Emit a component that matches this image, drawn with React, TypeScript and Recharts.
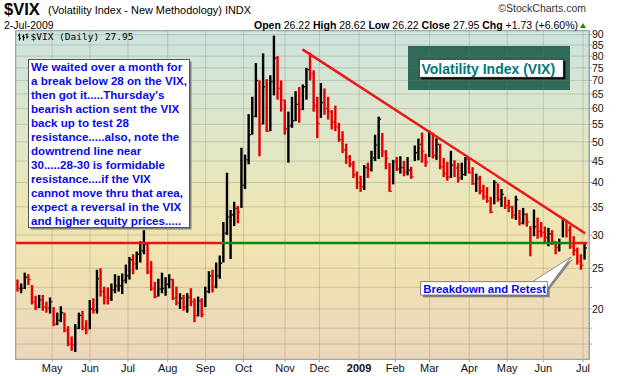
import React from "react";
import { Bar, CartesianGrid, ComposedChart, ReferenceLine, XAxis, YAxis } from "recharts";

// daily bars sampled every second session, first bar = session 1 (early Apr 2008)
const highs = [
  23.5, 23.0, 24.4, 24.2, 22.8, 21.5, 21.6, 21.6, 20.8, 21.3,
  20.2, 19.6, 20.3, 19.6, 18.2, 17.2, 18.4, 19.6, 19.8, 18.8,
  21.0, 21.2, 24.8, 25.0, 22.6, 22.5, 23.0, 24.2, 24.0, 24.3,
  25.5, 26.6, 27.0, 27.4, 29.0, 30.8, 28.6, 26.0, 23.2, 23.6,
  24.4, 23.8, 24.2, 23.6, 22.6, 21.8, 21.6, 21.8, 22.4, 21.2,
  21.4, 21.2, 22.6, 24.6, 24.8, 25.8, 26.8, 32.2, 42.2, 34.4,
  36.0, 35.2, 48.4, 46.6, 58.2, 64.0, 77.0, 70.0, 81.2, 70.5,
  72.0, 89.5, 80.0, 70.0, 63.0, 59.0, 64.0, 66.0, 67.5, 68.5,
  75.0, 81.5, 74.0, 64.0, 69.0, 67.0, 64.0, 59.5, 61.0, 55.5,
  53.0, 49.5, 46.5, 45.0, 42.5, 41.5, 44.0, 44.6, 47.6, 52.0,
  57.4, 52.5, 47.8, 44.5, 45.3, 46.0, 46.2, 45.0, 46.0, 43.6,
  49.0, 50.9, 52.6, 46.8, 53.2, 52.6, 51.0, 49.5, 45.8, 44.8,
  47.6, 45.2, 44.5, 44.6, 46.0, 46.0, 43.5, 42.0, 41.5, 39.5,
  39.0, 37.0, 40.5, 39.8, 38.6, 37.0, 36.4, 35.2, 37.2, 34.4,
  34.8, 33.8, 31.5, 34.5, 33.0, 32.2, 31.4, 31.2, 30.8, 29.0,
  29.4, 33.0, 32.6, 31.6, 29.8, 28.0, 27.0, 28.62,
];
const lows = [
  22.0, 21.8, 22.3, 22.8, 20.5, 19.9, 20.1, 19.8, 19.6, 19.5,
  18.2, 18.3, 18.6, 17.6, 16.3, 15.9, 15.8, 17.9, 17.8, 17.4,
  17.9, 19.5, 19.5, 21.4, 20.5, 20.5, 20.9, 21.8, 22.0, 21.7,
  23.0, 23.5, 24.2, 24.8, 25.8, 27.0, 24.2, 22.1, 21.2, 21.4,
  21.8, 21.5, 22.4, 21.0, 20.4, 20.0, 19.8, 19.6, 20.3, 18.6,
  19.2, 19.1, 20.2, 21.8, 21.9, 22.4, 23.6, 25.8, 30.0, 26.3,
  31.5, 32.0, 34.8, 38.6, 44.2, 52.0, 57.2, 46.2, 55.0, 52.8,
  53.0, 64.5, 63.0, 59.0, 52.0, 44.6, 54.0, 56.0, 55.5, 59.5,
  63.0, 70.0, 59.0, 51.0, 57.0, 58.0, 56.5, 53.5, 53.0, 50.0,
  47.0, 44.3, 43.5, 41.0, 38.6, 38.0, 38.4, 41.0, 42.5, 45.0,
  45.5, 46.0, 43.0, 38.0, 39.6, 42.6, 42.0, 41.4, 41.6, 40.8,
  45.0, 45.2, 44.6, 43.6, 46.0, 45.6, 45.3, 43.0, 41.2, 40.4,
  41.0, 41.2, 40.0, 40.6, 41.5, 42.0, 39.5, 38.0, 37.5, 36.4,
  35.8, 33.8, 35.5, 36.0, 35.0, 34.6, 34.0, 32.8, 32.6, 31.6,
  31.8, 31.4, 26.7, 29.8, 29.4, 29.6, 28.6, 28.2, 28.4, 27.0,
  27.4, 29.6, 29.6, 27.8, 26.8, 25.5, 24.8, 26.22,
];
const closes = [
  22.4, 22.4, 23.8, 23.5, 20.8, 20.2, 21.0, 20.2, 20.1, 20.8,
  18.4, 18.8, 19.6, 17.8, 16.5, 16.4, 18.0, 19.3, 18.0, 17.8,
  20.0, 19.9, 23.6, 22.0, 21.3, 21.2, 22.2, 22.7, 22.7, 23.4,
  24.0, 26.2, 25.6, 27.0, 27.5, 28.5, 24.5, 22.4, 21.4, 22.3,
  22.4, 22.9, 23.5, 21.2, 20.7, 21.2, 20.2, 21.3, 20.8, 19.3,
  20.9, 19.4, 22.0, 24.0, 22.6, 24.0, 25.7, 30.3, 33.1, 33.5,
  34.7, 34.0, 39.4, 45.3, 52.0, 57.5, 70.0, 55.1, 67.6, 53.0,
  69.6, 79.1, 67.0, 62.9, 53.7, 54.6, 56.1, 61.4, 59.8, 67.6,
  74.3, 72.7, 60.9, 55.3, 62.0, 60.0, 58.9, 55.7, 54.3, 50.6,
  47.8, 45.9, 44.2, 41.7, 40.0, 39.1, 43.4, 43.0, 45.8, 49.1,
  56.6, 47.3, 45.7, 38.1, 44.8, 43.1, 43.4, 42.4, 42.8, 41.3,
  47.1, 49.3, 47.4, 44.7, 52.6, 46.4, 49.3, 43.6, 42.0, 41.2,
  44.0, 43.3, 41.0, 41.8, 45.5, 42.2, 39.7, 40.9, 38.2, 37.0,
  36.2, 34.0, 40.0, 36.5, 37.5, 35.2, 35.0, 33.4, 36.4, 32.0,
  33.6, 32.2, 28.8, 31.4, 30.6, 30.4, 29.6, 30.2, 29.0, 28.0,
  28.6, 32.7, 30.8, 28.2, 27.6, 26.0, 25.4, 27.95,
];
const startClose = 22.7;

const monthStarts = [20, 41, 62, 84, 105, 126, 149, 168, 190, 210, 229, 251, 272, 292, 314];
const monthLabels = ["May", "Jun", "Jul", "Aug", "Sep", "Oct", "Nov", "Dec", "2009", "Feb", "Mar", "Apr", "May", "Jun", "Jul"];

const priceTicks = [16.5, 18, 20, 22.5, 25, 30, 35, 40, 45, 50, 55, 60, 65, 70, 75, 80, 85, 90];
const labelledTicks = [20, 25, 30, 35, 40, 45, 50, 55, 60, 65, 70, 75, 80, 85, 90];

const supportLevel = 28.7;
const supportRedEnd = 113.6;
const supportGreenEnd = 307.4;
const supportRightEnd = 316.4;
const trendStart = { i: 158.6, v: 83 };
const trendEnd = { i: 315.1, v: 30.3 };

const noteLines = [
  "We waited over a month for",
  "a break below 28 on the VIX,",
  "then got it.....Thursday's",
  "bearish action sent the VIX",
  "back up to test 28",
  "resistance.....also, note the",
  "downtrend line near",
  "30.....28-30 is formidable",
  "resistance....if the VIX",
  "cannot move thru that area,",
  "expect a reversal in the VIX",
  "and higher equity prices.....",
];

const rows = highs.map((h, k) => ({
  i: 1 + 2 * k,
  range: [lows[k], h],
  high: h,
  low: lows[k],
  close: closes[k],
  up: closes[k] >= (k === 0 ? startClose : closes[k - 1]),
}));

const font = "'Liberation Sans', Arial, sans-serif";
const blue = "#0a0aee";

function OhlcBar(props: any) {
  const { x, y, width, height, payload } = props;
  if (x == null || y == null || !payload) return null;
  const top = Math.min(y, y + height);
  const h = Math.max(Math.abs(height), 1);
  const cx = x + width / 2;
  const fill = payload.up ? "#000000" : "#e40000";
  const span = Math.log(payload.high) - Math.log(payload.low);
  const cy = top + (span > 0 ? (h * (Math.log(payload.high) - Math.log(payload.close))) / span : 0);
  return (
    <g>
      <rect x={cx - 1.2} y={top} width={2.4} height={h} fill={fill} />
      <rect x={cx + 1.2} y={cy - 0.7} width={1.2} height={1.4} fill={fill} />
    </g>
  );
}

function MonthTick(props: any) {
  const { x, y, payload } = props;
  const k = monthStarts.indexOf(payload.value);
  const label = monthLabels[k] ?? "";
  return (
    <text x={x} y={y + 10} textAnchor="middle" fontSize={11} fontFamily={font}
      fontWeight={label === "2009" ? "bold" : "normal"} fill="#111">
      {label}
    </text>
  );
}

export default function App() {
  return (
    <div style={{ position: "absolute", left: 0, top: 0, width: 620, height: 376, background: "#fff", fontFamily: font }}>
      {/* plot background */}
      <div style={{
        position: "absolute", left: 15, top: 30, width: 575, height: 330, boxSizing: "border-box",
        border: "1px solid #9db3b6",
        background: "linear-gradient(to bottom, #cce3df 0%, #dde6cb 28%, #ece6b6 52%, #f0e3b0 68%, #ecd6bc 100%)",
      }} />
      <div style={{ position: "absolute", left: 407.5, top: 46, width: 162.5, height: 44, background: "#2e6a57" }} />

      <div style={{ position: "absolute", left: 0, top: 0 }}>
        <ComposedChart width={620} height={376} data={rows} margin={{ top: 31, right: 0, bottom: 0, left: 16 }}>
          <CartesianGrid stroke="rgba(120,120,90,0.28)" />
          <XAxis type="number" dataKey="i" domain={[0, 317.3]} ticks={monthStarts} interval={0}
            allowDataOverflow height={17} axisLine={false} tickSize={3} tickMargin={0}
            tickLine={{ stroke: "#9aa" }} tick={<MonthTick />} />
          <YAxis orientation="right" scale="log" type="number" domain={[15.2, 91.8]} allowDataOverflow
            ticks={priceTicks} interval={0} width={31} tickSize={3} tickMargin={0}
            axisLine={{ stroke: "#86a9c2", strokeDasharray: "2 1" }} tickLine={{ stroke: "#86a9c2" }}
            tickFormatter={(v: number) => (labelledTicks.includes(v) ? String(v) : "")}
            tick={{ fontSize: 10.5, fill: "#111", fontFamily: font }} />
          <Bar dataKey="range" barSize={3} shape={OhlcBar} isAnimationActive={false} />
          <ReferenceLine segment={[{ x: 0, y: supportLevel }, { x: supportRedEnd, y: supportLevel }]}
            stroke="#ee1111" strokeWidth={2.5} />
          <ReferenceLine segment={[{ x: supportRedEnd, y: supportLevel }, { x: supportGreenEnd, y: supportLevel }]}
            stroke="#0a8a0a" strokeWidth={2.5} />
          <ReferenceLine segment={[{ x: supportGreenEnd, y: supportLevel }, { x: supportRightEnd, y: supportLevel }]}
            stroke="#ee1111" strokeWidth={2.5} />
          <ReferenceLine segment={[{ x: trendStart.i, y: trendStart.v }, { x: trendEnd.i, y: trendEnd.v }]}
            stroke="#f01515" strokeWidth={2.5} />
        </ComposedChart>
      </div>

      <svg width={620} height={376} style={{ position: "absolute", left: 0, top: 0, pointerEvents: "none" }} fontFamily={font}>
        {/* header */}
        <text x={4} y={15} fontSize={16.5} fontWeight="bold">$VIX</text>
        <text x={48} y={14} fontSize={10.5} textLength={203} lengthAdjust="spacingAndGlyphs">(Volatility Index - New Methodology) INDX</text>
        <text x={586} y={12} fontSize={10.5} textAnchor="end" fill="#333">©StockCharts.com</text>
        <text x={4} y={29} fontSize={10.5}>2-Jul-2009</text>
        <text x={578} y={29} fontSize={10.5} textAnchor="end">
          <tspan fontWeight="bold">Open</tspan>{" 26.22 "}
          <tspan fontWeight="bold">High</tspan>{" 28.62 "}
          <tspan fontWeight="bold">Low</tspan>{" 26.22 "}
          <tspan fontWeight="bold">Close</tspan>{" 27.95 "}
          <tspan fontWeight="bold">Chg</tspan>{" +1.73 (+6.60%)"}
        </text>
        <polygon points="580,28 586,28 583,23" fill="#1a8a1a" />

        {/* legend */}
        <path d="M19.5 33.5v7M18 35.5h1.5M19.5 38.5h1.5M23.5 34.5v6M22 36.5h1.5M23.5 37.5h1.5M27 33.5v5M25.5 34.5h1.5M27 37h1.5"
          stroke="#000" strokeWidth={1.2} fill="none" />
        <text x={30.5} y={40} fontSize={9.5} fontFamily="'DejaVu Sans Mono', monospace" textLength={103}
          lengthAdjust="spacingAndGlyphs">$VIX (Daily) 27.95</text>

        {/* title label */}
        <rect x={421.3} y={61.3} width={144} height={18} fill="#000" />
        <rect x={419.3} y={59.3} width={144} height={18} fill="#fff" stroke="#222" strokeWidth={0.8} />
        <text x={421.5} y={73.5} fontSize={14} fontWeight="bold" fill="#007878">Volatility Index (VIX)</text>

        {/* note box */}
        <rect x={30.5} y={61.5} width={161} height={168} fill="#808080" />
        <rect x={28.5} y={59.5} width={161} height={168} fill="#fff" stroke="#555" strokeWidth={1} />
        <text fontSize={11.6} fontWeight="bold" fill={blue}>
          {noteLines.map((line, k) => (
            <tspan key={k} x={31} y={70.5 + k * 14}>{line}</tspan>
          ))}
        </text>

        {/* breakdown callout */}
        <polygon points="535,283 573,259 549,290" fill="#888" />
        <rect x={423} y={284} width={126.6} height={13.3} fill="#808080" />
        <polygon points="532,282 571,257 547,289" fill="#fff" stroke="#777" strokeWidth={0.8} />
        <rect x={420.7} y={281.7} width={126.6} height={13.3} fill="#fff" stroke="#666" strokeWidth={0.8} />
        <rect x={530} y={282.3} width={16.5} height={12} fill="#fff" />
        <text x={423.3} y={292.6} fontSize={11.4} fontWeight="bold" fill={blue}>Breakdown and Retest</text>
      </svg>
    </div>
  );
}
